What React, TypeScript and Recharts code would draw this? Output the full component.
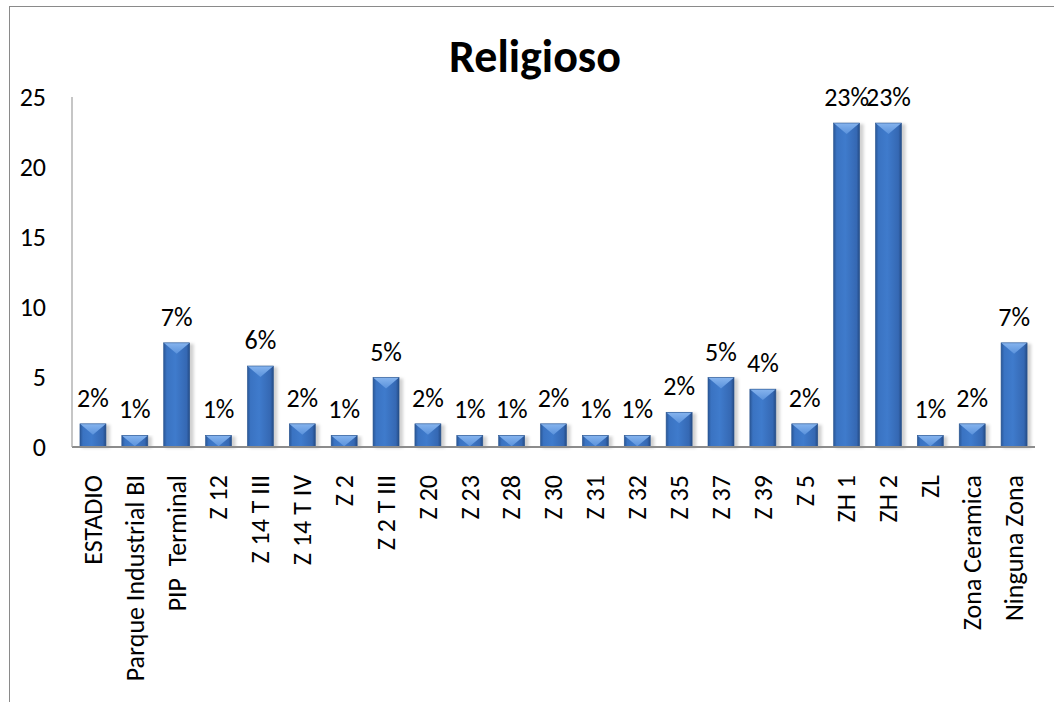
import { BarChart, Bar, XAxis, YAxis, LabelList } from 'recharts'

const zones = [
  'ESTADIO',
  'Parque Industrial BI',
  'PIP  Terminal',
  'Z 12',
  'Z 14 T III',
  'Z 14 T IV',
  'Z 2',
  'Z 2 T III',
  'Z 20',
  'Z 23',
  'Z 28',
  'Z 30',
  'Z 31',
  'Z 32',
  'Z 35',
  'Z 37',
  'Z 39',
  'Z 5',
  'ZH 1',
  'ZH 2',
  'ZL',
  'Zona Ceramica',
  'Ninguna Zona',
]

// number of responses per zone
const counts = [2, 1, 9, 1, 7, 2, 1, 6, 2, 1, 1, 2, 1, 1, 3, 6, 5, 2, 28, 28, 1, 2, 9]

const yTicks = [0, 5, 10, 15, 20, 25]

const total = counts.reduce((a, b) => a + b, 0)
const data = zones.map((zone, i) => ({ zone, pct: (counts[i] / total) * 100 }))

const FONT = 'Calibri, Carlito, Lato, sans-serif'
const TXT = 26

function GlossBar(props: any) {
  const { x, y, width, height } = props
  if (!height || height <= 0) return null
  const depth = Math.min(width * 0.42, height)
  return (
    <g>
      <rect x={x + 2} y={y + 1} width={width + 2} height={height} fill="rgba(0,0,0,0.18)" filter="url(#barShadow)" />
      <rect x={x} y={y} width={width} height={height} fill="url(#barBody)" />
      <polygon points={`${x},${y} ${x + width},${y} ${x + width / 2},${y + depth}`} fill="url(#barTop)" />
      <rect x={x} y={y} width={width} height={height} fill="none" stroke="#2a5590" strokeWidth={0.6} />
    </g>
  )
}

function PctLabel(props: any) {
  const { x, y, width, value } = props
  return (
    <text x={x + width / 2} y={y - 17} textAnchor="middle" fontFamily={FONT} fontSize={TXT} fill="#000">
      {Math.round(value)}%
    </text>
  )
}

function ZoneTick(props: any) {
  const { x, y, payload } = props
  return (
    <text
      x={x}
      y={y + 20}
      transform={`rotate(-90 ${x} ${y + 20})`}
      textAnchor="end"
      dy="0.34em"
      fontFamily={FONT}
      fontSize={TXT}
      fill="#000"
      style={{ whiteSpace: 'pre' }}
    >
      {payload.value}
    </text>
  )
}

function ValueTick(props: any) {
  const { y, payload } = props
  return (
    <text x={46} y={y} textAnchor="end" dy="0.35em" fontFamily={FONT} fontSize={TXT} fill="#000">
      {payload.value}
    </text>
  )
}

export default function App() {
  return (
    <div style={{ position: 'absolute', left: 0, top: 0, width: 1054, height: 702, overflow: 'hidden', background: '#fff' }}>
      <svg width={0} height={0} style={{ position: 'absolute' }}>
        <defs>
          <linearGradient id="barBody" x1="0" y1="0" x2="1" y2="0">
            <stop offset="0%" stopColor="#2a5797" />
            <stop offset="12%" stopColor="#3a73c2" />
            <stop offset="45%" stopColor="#3f7bcc" />
            <stop offset="88%" stopColor="#3568b3" />
            <stop offset="100%" stopColor="#244b85" />
          </linearGradient>
          <linearGradient id="barTop" x1="0" y1="0" x2="0" y2="1">
            <stop offset="0%" stopColor="#86b4ee" />
            <stop offset="100%" stopColor="#5a92dc" />
          </linearGradient>
          <filter id="barShadow" x="-50%" y="-10%" width="200%" height="120%">
            <feGaussianBlur stdDeviation="1.5" />
          </filter>
        </defs>
      </svg>
      <div
        style={{
          position: 'absolute',
          left: 9,
          top: 6,
          width: 1200,
          height: 900,
          border: '1.5px solid #8a8a8a',
        }}
      />
      <div
        style={{
          position: 'absolute',
          left: 0,
          top: 28,
          width: 1070,
          textAlign: 'center',
          fontFamily: FONT,
          fontWeight: 'bold',
          fontSize: 46,
          lineHeight: '56px',
          color: '#000',
        }}
      >
        Religioso
      </div>
      <div style={{ position: 'absolute', left: 0, top: 0 }}>
        <BarChart width={1054} height={702} data={data} margin={{ top: 97, right: 19, bottom: 0, left: 0 }} barCategoryGap="19%">
          <XAxis
            dataKey="zone"
            interval={0}
            height={255}
            tick={<ZoneTick />}
            tickLine={false}
            axisLine={{ stroke: '#8c8c8c', strokeWidth: 2 }}
          />
          <YAxis
            domain={[0, 25]}
            ticks={yTicks}
            width={72}
            tick={<ValueTick />}
            tickLine={false}
            axisLine={{ stroke: '#a0a0a0', strokeWidth: 1.2 }}
          />
          <Bar dataKey="pct" shape={<GlossBar />} isAnimationActive={false}>
            <LabelList dataKey="pct" content={<PctLabel />} />
          </Bar>
        </BarChart>
      </div>
    </div>
  )
}
